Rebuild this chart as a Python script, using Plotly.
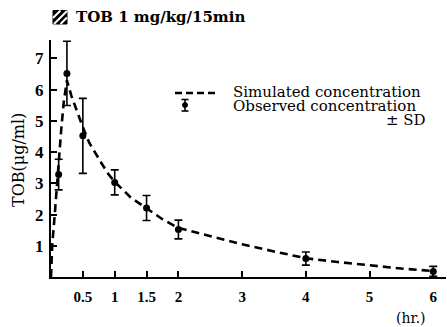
import plotly.graph_objects as go

# Observed concentrations (mean ± SD)
obs_t = [0.12, 0.25, 0.5, 1.0, 1.5, 2.0, 4.0, 6.0]
obs_c = [3.28, 6.52, 4.52, 3.03, 2.21, 1.52, 0.59, 0.18]
obs_sd = [0.49, 1.03, 1.20, 0.40, 0.40, 0.30, 0.21, 0.16]

# Simulated concentration curve
sim_t = [0.0, 0.02, 0.055, 0.085, 0.12, 0.16, 0.2, 0.23, 0.25, 0.32, 0.4, 0.5, 0.6, 0.7,
         0.8, 0.9, 1.0, 1.25, 1.5, 1.75, 2.0, 2.5, 3.0, 3.5, 4.0, 4.5, 5.0, 5.5, 6.0]
sim_c = [0.0, 1.05, 1.9, 2.8, 3.65, 4.7, 5.6, 6.1, 6.3, 5.8, 5.35, 4.8, 4.3, 3.95,
         3.62, 3.3, 3.05, 2.55, 2.2, 1.85, 1.57, 1.3, 1.05, 0.82, 0.6, 0.48, 0.37, 0.27, 0.19]

x_ticks = [0.5, 1, 1.5, 2, 3, 4, 5, 6]
x_tick_labels = ["0.5", "1", "1.5", "2", "3", "4", "5", "6"]
y_ticks = [1, 2, 3, 4, 5, 6, 7]
y_tick_labels = ["1", "2", "3", "4", "5", "6", "7"]

W, H = 447, 327
L, R, T, B = 51, 1, 40, 50
PW, PH = W - L - R, H - T - B


def px(x):
    return (x - L) / PW


def py(y):
    return (H - B - y) / PH


fig = go.Figure()
fig.add_trace(go.Scatter(
    x=sim_t, y=sim_c, mode="lines",
    line=dict(color="black", width=2.6, dash="8px,5px"),
    showlegend=False, hoverinfo="skip"))
fig.add_trace(go.Scatter(
    x=obs_t, y=obs_c, mode="markers",
    marker=dict(color="black", size=7),
    error_y=dict(type="data", array=obs_sd, visible=True, color="black",
                 thickness=1.6, width=4),
    showlegend=False))

serif = "DejaVu Serif"

fig.update_layout(
    width=W, height=H,
    margin=dict(l=L, r=R, t=T, b=B, pad=0, autoexpand=False),
    paper_bgcolor="white", plot_bgcolor="white",
    xaxis=dict(range=[0, 6.2], showgrid=False, zeroline=False, automargin=False,
               showline=True, linecolor="black", linewidth=2,
               ticks="inside", ticklen=6, tickwidth=1.5, tickcolor="black",
               tickvals=x_ticks, ticktext=x_tick_labels,
               tickfont=dict(family="Liberation Serif", size=15, color="black", weight="bold"),
               ticklabelstandoff=5),
    yaxis=dict(range=[0, 7.59], showgrid=False, zeroline=False, automargin=False,
               showline=True, linecolor="black", linewidth=2,
               ticks="inside", ticklen=6, tickwidth=1.5, tickcolor="black",
               tickvals=y_ticks, ticktext=y_tick_labels,
               tickfont=dict(family="Liberation Serif", size=17, color="black", weight="bold"),
               ticklabelstandoff=2),
    showlegend=False,
)

ann = []
# y-axis title
ann.append(dict(text="TOB(μg/ml)", x=px(18), y=py(160), xref="paper", yref="paper",
                textangle=-90, showarrow=False, xanchor="center", yanchor="middle",
                font=dict(family=serif, size=16, color="black")))
# x unit
ann.append(dict(text="(hr.)", x=px(411), y=py(318), xref="paper", yref="paper",
                showarrow=False, xanchor="center", yanchor="middle",
                font=dict(family=serif, size=14, color="black")))
# title
ann.append(dict(text="TOB 1 mg/kg/15min", x=px(74), y=py(17.5), xref="paper", yref="paper",
                showarrow=False, xanchor="left", yanchor="middle",
                font=dict(family=serif, size=15, color="black", weight="bold")))
# legend texts
ann.append(dict(text="Simulated concentration", x=px(231), y=py(91.5), xref="paper", yref="paper",
                showarrow=False, xanchor="left", yanchor="middle",
                font=dict(family=serif, size=15, color="black")))
ann.append(dict(text="Observed concentration", x=px(231), y=py(106), xref="paper", yref="paper",
                showarrow=False, xanchor="left", yanchor="middle",
                font=dict(family=serif, size=15, color="black")))
ann.append(dict(text="± SD", x=px(428), y=py(120), xref="paper", yref="paper",
                showarrow=False, xanchor="right", yanchor="middle",
                font=dict(family=serif, size=15, color="black")))
fig.update_layout(annotations=ann)

shapes = []
# hatched box in title
shapes.append(dict(type="rect", xref="paper", yref="paper",
                   x0=px(53), x1=px(67), y0=py(24), y1=py(10.5),
                   fillcolor="black", line=dict(color="black", width=1)))
for (a, b, c, d) in [(53, 18, 60.5, 10.5), (54, 24, 67, 11), (60.5, 24, 67, 17.5)]:
    shapes.append(dict(type="line", xref="paper", yref="paper",
                       x0=px(a), y0=py(b), x1=px(c), y1=py(d),
                       line=dict(color="white", width=2)))
# legend dashed sample
shapes.append(dict(type="line", xref="paper", yref="paper",
                   x0=px(175), x1=px(216), y0=py(93), y1=py(93),
                   line=dict(color="black", width=2.6, dash="7px,4px")))
# legend error-bar icon
shapes.append(dict(type="line", xref="paper", yref="paper",
                   x0=px(185), x1=px(185), y0=py(99.5), y1=py(111),
                   line=dict(color="black", width=1.6)))
for yy in (99.5, 111):
    shapes.append(dict(type="line", xref="paper", yref="paper",
                       x0=px(181.5), x1=px(188.5), y0=py(yy), y1=py(yy),
                       line=dict(color="black", width=1.6)))
shapes.append(dict(type="circle", xref="paper", yref="paper",
                   x0=px(182.5), x1=px(187.5), y0=py(107.5), y1=py(102.5),
                   fillcolor="black", line=dict(color="black", width=1)))
fig.update_layout(shapes=shapes)

fig.write_html("out.html", config={"displayModeBar": False},
               post_script="document.body.style.margin='0';document.body.style.overflow='hidden';")
